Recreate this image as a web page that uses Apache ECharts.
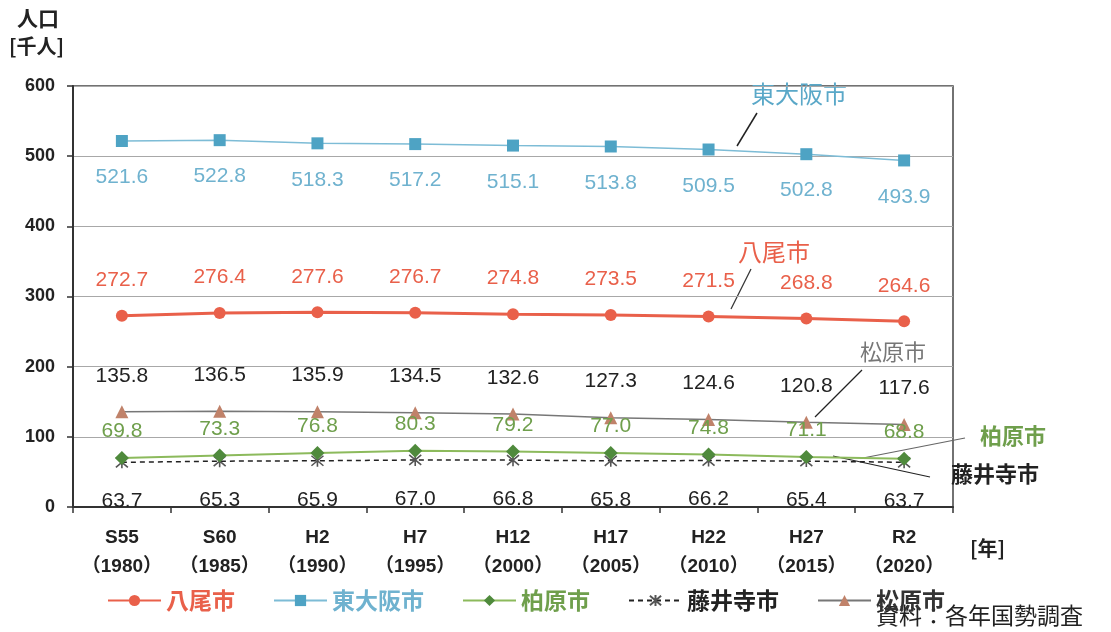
<!DOCTYPE html>
<html>
<head>
<meta charset="utf-8">
<script src="https://cdn.jsdelivr.net/npm/echarts@6/dist/echarts.min.js"></script>
<style>
  html, body { margin: 0; padding: 0; background: #fff; }
  #chart { width: 1111px; height: 632px; }
</style>
</head>
<body>
<div id="chart"></div>
<script>
// 国勢調査による各市の人口推移（千人）
const categories = ['S55\n（1980）', 'S60\n（1985）', 'H2\n（1990）', 'H7\n（1995）', 'H12\n（2000）',
                    'H17\n（2005）', 'H22\n（2010）', 'H27\n（2015）', 'R2\n（2020）'];
const yao        = [272.7, 276.4, 277.6, 276.7, 274.8, 273.5, 271.5, 268.8, 264.6];
const higashiOsaka = [521.6, 522.8, 518.3, 517.2, 515.1, 513.8, 509.5, 502.8, 493.9];
const kashiwara  = [69.8, 73.3, 76.8, 80.3, 79.2, 77.0, 74.8, 71.1, 68.8];
const fujiidera  = [63.7, 65.3, 65.9, 67.0, 66.8, 65.8, 66.2, 65.4, 63.7];
const matsubara  = [135.8, 136.5, 135.9, 134.5, 132.6, 127.3, 124.6, 120.8, 117.6];
const yTicks = [0, 100, 200, 300, 400, 500, 600];

const numFont = "'Liberation Sans', 'Noto Sans', sans-serif";
const jpFont = "'Noto Sans CJK JP', sans-serif";

const starPath = 'path://M0,0 L10,10 M10,0 L0,10 M5,-1 L5,11';

function valueLabel(color, position, distance) {
  return {
    show: true,
    position: position,
    distance: distance,
    color: color,
    fontFamily: numFont,
    fontSize: 21,
    formatter: p => p.value.toFixed(1)
  };
}

const chart = echarts.init(document.getElementById('chart'), null, { renderer: 'canvas' });

chart.setOption({
  animation: false,
  backgroundColor: '#ffffff',
  grid: {
    left: 73, right: 158, top: 86, bottom: 125,
    show: true, borderColor: '#444', borderWidth: 1.5, backgroundColor: 'transparent'
  },
  xAxis: {
    type: 'category',
    data: categories,
    boundaryGap: true,
    axisLine: { lineStyle: { color: '#333', width: 2 } },
    axisTick: { show: true, length: 6, interval: 0, lineStyle: { color: '#333', width: 1.5 } },
    axisLabel: {
      interval: 0,
      margin: 16,
      color: '#222',
      fontFamily: "'Liberation Sans', 'Noto Sans CJK JP', sans-serif",
      fontWeight: 'bold',
      fontSize: 19,
      lineHeight: 29
    }
  },
  yAxis: {
    type: 'value',
    min: yTicks[0],
    max: yTicks[yTicks.length - 1],
    interval: 100,
    axisLine: { show: true, lineStyle: { color: '#333', width: 2 } },
    axisTick: { show: true, length: 6, lineStyle: { color: '#333', width: 1.5 } },
    splitLine: { lineStyle: { color: '#a8a8a8', width: 1.2 } },
    axisLabel: {
      margin: 18,
      color: '#222',
      fontFamily: "'Liberation Sans', sans-serif",
      fontWeight: 'bold',
      fontSize: 18
    }
  },
  legend: {
    left: 102,
    top: 584,
    itemWidth: 53,
    itemHeight: 14,
    itemGap: 38,
    textStyle: { fontFamily: jpFont, fontSize: 23, fontWeight: 'bold' },
    data: [
      { name: '八尾市', textStyle: { color: '#e9604a' } },
      { name: '東大阪市', textStyle: { color: '#6fb2cf' } },
      { name: '柏原市', textStyle: { color: '#6f9f4c' } },
      { name: '藤井寺市', textStyle: { color: '#222' } },
      { name: '松原市', textStyle: { color: '#333' } }
    ]
  },
  series: [
    {
      name: '八尾市', type: 'line', data: yao,
      symbol: 'circle', symbolSize: 12,
      lineStyle: { color: '#e9604a', width: 3 },
      itemStyle: { color: '#e9604a' },
      label: valueLabel('#e9604a', 'top', 19),
      z: 5
    },
    {
      name: '東大阪市', type: 'line', data: higashiOsaka,
      symbol: 'rect', symbolSize: 12,
      lineStyle: { color: '#7dbcd6', width: 1.5 },
      itemStyle: { color: '#4ea3c4' },
      label: valueLabel('#6fb2cf', 'bottom', 20),
      z: 5
    },
    {
      name: '柏原市', type: 'line', data: kashiwara,
      symbol: 'diamond', symbolSize: 14,
      lineStyle: { color: '#8cba5c', width: 2 },
      itemStyle: { color: '#4f8a3c' },
      label: valueLabel('#6f9f4c', 'top', 9),
      z: 4
    },
    {
      name: '藤井寺市', type: 'line', data: fujiidera,
      symbol: starPath, symbolSize: 12,
      lineStyle: { color: '#222', width: 1.5, type: [5, 4] },
      itemStyle: { color: 'none', borderColor: '#555', borderWidth: 1.6 },
      label: valueLabel('#222', 'bottom', 20),
      z: 3
    },
    {
      name: '松原市', type: 'line', data: matsubara,
      symbol: 'triangle', symbolSize: 13,
      lineStyle: { color: '#777', width: 1.5 },
      itemStyle: { color: '#c0826a' },
      label: valueLabel('#222', 'top', 19),
      z: 4
    }
  ],
  graphic: [
    // axis titles
    { type: 'text', left: 17, top: 8, style: { text: '人口', font: 'bold 21px ' + jpFont, fill: '#222' } },
    { type: 'text', left: 9, top: 36, style: { text: '[千人]', font: 'bold 20px ' + jpFont, fill: '#222' } },
    { type: 'text', left: 970, top: 538, style: { text: '[年]', font: 'bold 20px ' + jpFont, fill: '#222' } },
    // source note
    { type: 'text', left: 876, top: 604, style: { text: '資料：各年国勢調査', font: '23px ' + jpFont, fill: '#222' } },
    // series callouts
    { type: 'text', left: 751, top: 82, style: { text: '東大阪市', font: '24px ' + jpFont, fill: '#5aa8c8' } },
    { type: 'line', shape: { x1: 757, y1: 113, x2: 737, y2: 146 }, style: { stroke: '#222', lineWidth: 1.5 } },
    { type: 'text', left: 738, top: 240, style: { text: '八尾市', font: '24px ' + jpFont, fill: '#e9604a' } },
    { type: 'line', shape: { x1: 751, y1: 269, x2: 731, y2: 309 }, style: { stroke: '#333', lineWidth: 1.2 } },
    { type: 'text', left: 860, top: 341, style: { text: '松原市', font: '22px ' + jpFont, fill: '#777' } },
    { type: 'line', shape: { x1: 862, y1: 370, x2: 815, y2: 417 }, style: { stroke: '#222', lineWidth: 1.2 } },
    { type: 'text', left: 980, top: 425, style: { text: '柏原市', font: 'bold 22px ' + jpFont, fill: '#6f9f4c' } },
    { type: 'line', shape: { x1: 965, y1: 438, x2: 863, y2: 458 }, style: { stroke: '#666', lineWidth: 1.2 } },
    { type: 'text', left: 951, top: 463, style: { text: '藤井寺市', font: 'bold 22px ' + jpFont, fill: '#222' } },
    { type: 'line', shape: { x1: 930, y1: 477, x2: 833, y2: 456 }, style: { stroke: '#222', lineWidth: 1.2 } }
  ]
});
</script>
</body>
</html>
